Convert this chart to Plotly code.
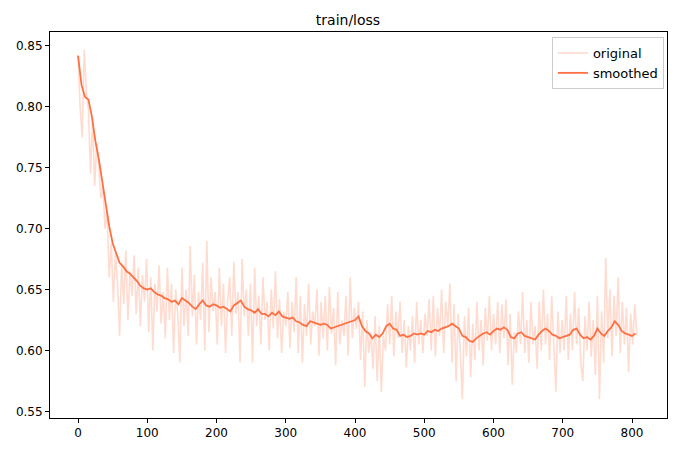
import plotly.graph_objects as go

# ---- data ----
orig_step = list(range(0, 810, 3))
orig_loss = [
    0.842, 0.800, 0.775, 0.847, 0.812, 0.798, 0.745, 0.790, 0.735, 0.770,
    0.752, 0.725, 0.735, 0.700, 0.715, 0.660, 0.688, 0.640, 0.680, 0.655,
    0.612, 0.672, 0.638, 0.682, 0.625, 0.665, 0.645, 0.678, 0.630, 0.668,
    0.620, 0.662, 0.640, 0.675,
    0.615, 0.660, 0.600, 0.655, 0.632, 0.670, 0.622, 0.648, 0.610, 0.668,
    0.625, 0.655, 0.598, 0.650, 0.630, 0.590, 0.668, 0.620, 0.650, 0.612,
    0.686, 0.628, 0.662, 0.605, 0.648, 0.625, 0.672, 0.600, 0.690, 0.615,
    0.660, 0.632, 0.648,
    0.605, 0.668, 0.620, 0.655, 0.598, 0.640, 0.660, 0.612, 0.673, 0.630,
    0.648, 0.590, 0.675, 0.628, 0.650, 0.612, 0.655, 0.590, 0.668, 0.620,
    0.645, 0.605, 0.660, 0.625, 0.640, 0.600, 0.650, 0.618, 0.665, 0.610,
    0.642, 0.598, 0.632, 0.620,
    0.648, 0.602, 0.640, 0.615, 0.660, 0.598, 0.645, 0.590, 0.638, 0.612,
    0.655, 0.605, 0.632, 0.620, 0.650, 0.596, 0.640, 0.610, 0.645, 0.600,
    0.652, 0.614, 0.635, 0.588, 0.648, 0.605, 0.625, 0.612, 0.645, 0.596,
    0.660, 0.610, 0.635,
    0.618, 0.640, 0.592, 0.632, 0.570, 0.625, 0.598, 0.615, 0.585, 0.628,
    0.575, 0.620, 0.566, 0.612, 0.600, 0.638, 0.605, 0.645, 0.595, 0.632,
    0.610, 0.640, 0.598, 0.625, 0.586, 0.620, 0.600, 0.628, 0.590, 0.640,
    0.605, 0.625, 0.598,
    0.630, 0.612, 0.642, 0.600, 0.645, 0.595, 0.635, 0.612, 0.650, 0.598,
    0.640, 0.620, 0.655, 0.590, 0.638, 0.575, 0.630, 0.600, 0.560, 0.628,
    0.595, 0.635, 0.578, 0.622, 0.592, 0.640, 0.600, 0.625, 0.588, 0.635,
    0.608, 0.645, 0.600, 0.630,
    0.605, 0.640, 0.598, 0.638, 0.610, 0.642, 0.588, 0.630, 0.572, 0.615,
    0.598, 0.632, 0.605, 0.648, 0.598, 0.625, 0.590, 0.640, 0.605, 0.620,
    0.585, 0.640, 0.600, 0.650, 0.605, 0.630, 0.592, 0.645, 0.608, 0.566,
    0.632, 0.598, 0.625,
    0.600, 0.645, 0.592, 0.630, 0.600, 0.648, 0.605, 0.635, 0.590, 0.575,
    0.628, 0.600, 0.640, 0.595, 0.625, 0.580, 0.645, 0.560, 0.632, 0.590,
    0.676, 0.610, 0.650, 0.595, 0.645, 0.612, 0.660, 0.598, 0.640, 0.605,
    0.635, 0.582, 0.630, 0.605, 0.638, 0.612,
]

smooth_step = list(range(0, 810, 5))
smooth_loss = [
    0.842, 0.818, 0.808, 0.806, 0.792, 0.772, 0.757, 0.738, 0.718, 0.702,
    0.688, 0.680, 0.672, 0.669, 0.665, 0.663, 0.660, 0.657, 0.653, 0.651,
    0.650, 0.651, 0.648, 0.646, 0.645, 0.643, 0.642, 0.640, 0.641, 0.638,
    0.643, 0.641, 0.639, 0.636, 0.634, 0.638, 0.641, 0.637, 0.636, 0.638,
    0.637, 0.635, 0.636, 0.634, 0.632, 0.637, 0.639, 0.641, 0.636, 0.634,
    0.633, 0.631, 0.634, 0.630, 0.630, 0.628, 0.631, 0.629, 0.632, 0.628,
    0.627, 0.626, 0.627, 0.624, 0.623, 0.621, 0.620, 0.624, 0.623, 0.622,
    0.621, 0.622, 0.621, 0.618, 0.619, 0.620, 0.621, 0.622, 0.623, 0.624,
    0.625, 0.628, 0.620, 0.616, 0.614, 0.610, 0.613, 0.611, 0.614, 0.620,
    0.622, 0.618, 0.617, 0.612, 0.613, 0.611, 0.612, 0.614, 0.613, 0.614,
    0.613, 0.616, 0.615, 0.617, 0.616, 0.618, 0.619, 0.620, 0.622, 0.620,
    0.618, 0.612, 0.611, 0.608, 0.607, 0.610, 0.612, 0.614, 0.615, 0.613,
    0.616, 0.618, 0.617, 0.619, 0.617, 0.611, 0.610, 0.614, 0.615, 0.612,
    0.611, 0.610, 0.609, 0.613, 0.616, 0.618, 0.616, 0.613, 0.612, 0.610,
    0.611, 0.612, 0.613, 0.617, 0.618, 0.613, 0.610, 0.611, 0.609, 0.612,
    0.618, 0.614, 0.612, 0.616, 0.619, 0.624, 0.621, 0.616, 0.614, 0.613,
    0.612, 0.614,
]

x_ticks = [0, 100, 200, 300, 400, 500, 600, 700, 800]
y_ticks = [0.55, 0.60, 0.65, 0.70, 0.75, 0.80, 0.85]

LINE = "rgb(255,112,67)"

fig = go.Figure()
fig.add_trace(go.Scatter(
    x=orig_step, y=orig_loss, mode="lines", name="original",
    line=dict(color="rgba(255,112,67,0.25)", width=1.6),
))
fig.add_trace(go.Scatter(
    x=smooth_step, y=smooth_loss, mode="lines", name="smoothed",
    line=dict(color=LINE, width=1.8),
))

axis_common = dict(
    showgrid=False, zeroline=False, showline=True, linecolor="black",
    linewidth=1, mirror=True, ticks="outside", ticklen=4, tickwidth=1,
    tickcolor="black", tickfont=dict(size=12, color="black"),
    automargin=False,
)
fig.update_xaxes(range=[-40.5, 850.5], tickvals=x_ticks,
                 ticktext=[str(v) for v in x_ticks], **axis_common)
fig.update_yaxes(range=[0.5446, 0.8614], tickvals=y_ticks,
                 ticktext=[f"{v:.2f}" for v in y_ticks], **axis_common)

fig.update_layout(
    width=680, height=451,
    margin=dict(l=42, r=21, t=24, b=41),
    paper_bgcolor="white", plot_bgcolor="white",
    font=dict(family="DejaVu Sans", size=12, color="black"),
    title=dict(text="train/loss", x=0.5, xanchor="center", y=0.973,
               yanchor="middle", font=dict(size=14)),
    showlegend=True,
    legend=dict(x=0.995, y=0.987, xanchor="right", yanchor="top",
                bgcolor="rgba(255,255,255,0.8)", bordercolor="#cccccc",
                borderwidth=1, font=dict(size=13)),
)

fig.write_html("out.html")
